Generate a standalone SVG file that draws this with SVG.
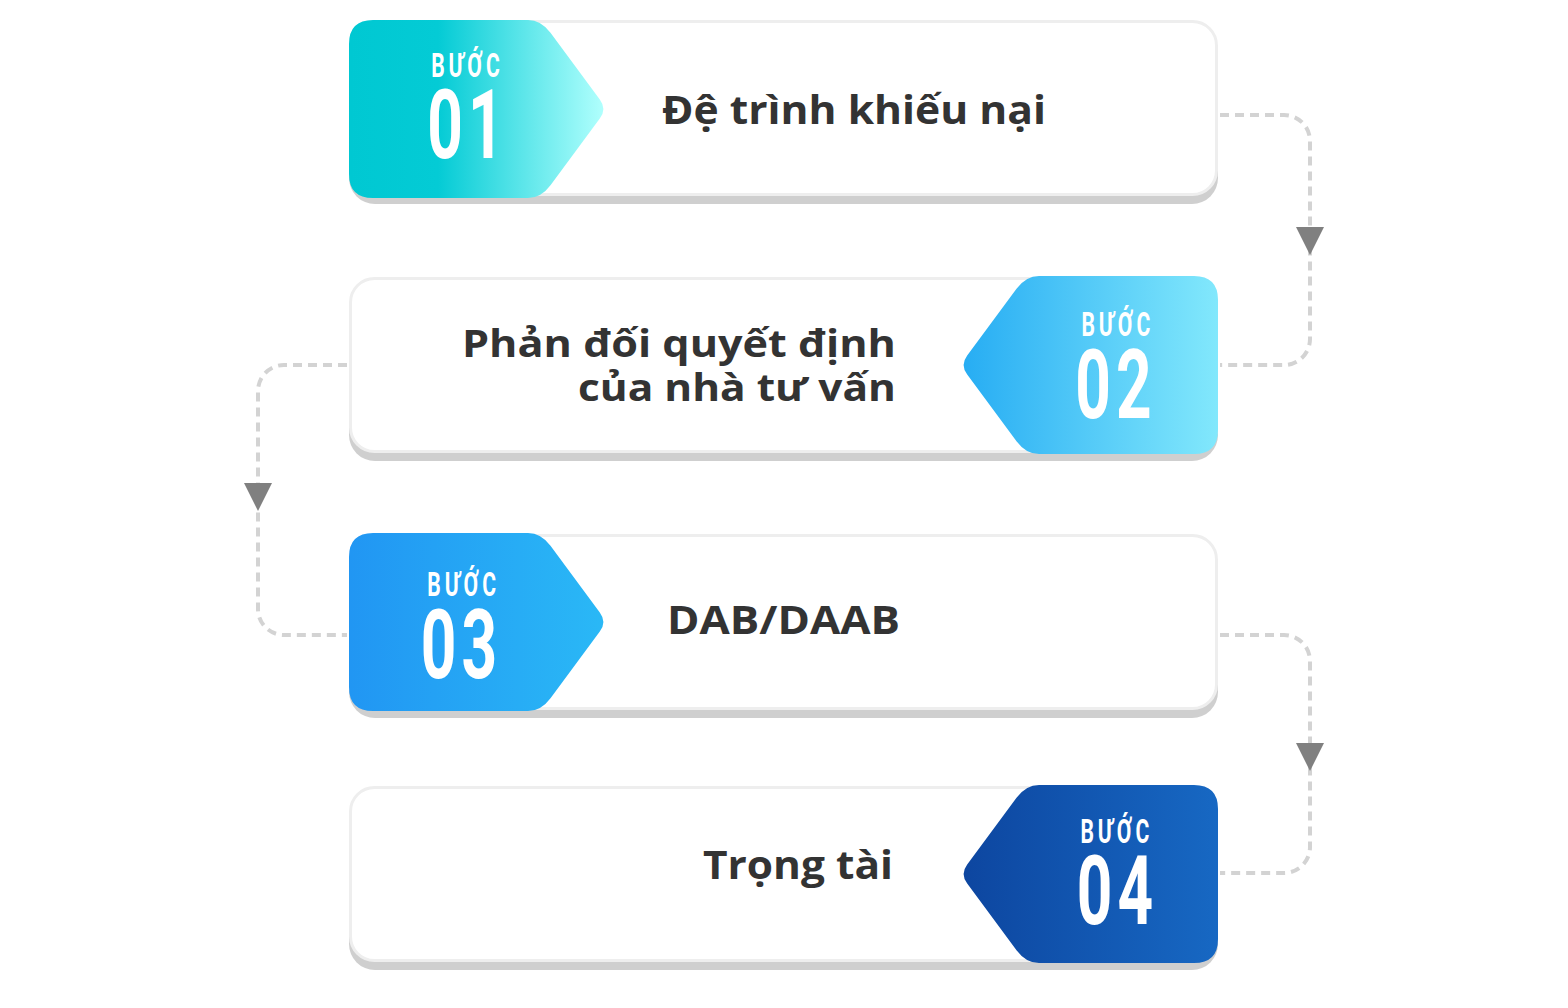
<svg xmlns="http://www.w3.org/2000/svg" xmlns:xlink="http://www.w3.org/1999/xlink" width="1568" height="1008" viewBox="0 0 1568 1008">
<style>
.shadow{fill:#cfcfcf}
.card{fill:#ffffff;stroke:#eeeeee;stroke-width:3}
.label{font-family:"Open Sans","Liberation Sans",sans-serif;font-weight:700;fill:#333333}
.badge{font-family:Roboto,"Liberation Sans",sans-serif;fill:#ffffff;text-anchor:middle}
.buoc{font-weight:700;font-size:33px;letter-spacing:6px}
.num{font-weight:700;font-size:97px;letter-spacing:8px}
.conn{fill:none;stroke:#d3d3d3;stroke-width:4;stroke-dasharray:9 6}
.arrow{fill:#808080}
</style>
<defs>
<linearGradient id="g1" x1="0" y1="0" x2="1" y2="0">
<stop offset="0" stop-color="#00c8d2"/><stop offset="0.35" stop-color="#04cbd5"/><stop offset="1" stop-color="#b0fffd"/>
</linearGradient>
<linearGradient id="g2" x1="0" y1="0" x2="1" y2="0">
<stop offset="0" stop-color="#27adf3"/><stop offset="1" stop-color="#82e8fc"/>
</linearGradient>
<linearGradient id="g3" x1="0" y1="0" x2="1" y2="0">
<stop offset="0" stop-color="#2196f3"/><stop offset="1" stop-color="#2ab8f6"/>
</linearGradient>
<linearGradient id="g4" x1="0" y1="0" x2="1" y2="0">
<stop offset="0" stop-color="#0d46a0"/><stop offset="1" stop-color="#1768c3"/>
</linearGradient>
<path id="arr" d="M-14,-14 L14,-14 L0,14 Z"/>
</defs>

<g id="connectors">
<path class="conn" d="M1220,115 L1284,115 A26,26 0 0 1 1310,141 L1310,339 A26,26 0 0 1 1284,365 L1220,365"/>
<path class="conn" d="M347,365 L284,365 A26,26 0 0 0 258,391 L258,609 A26,26 0 0 0 284,635 L347,635"/>
<path class="conn" d="M1220,635 L1284,635 A26,26 0 0 1 1310,661 L1310,847 A26,26 0 0 1 1284,873 L1220,873"/>
<use xlink:href="#arr" href="#arr" class="arrow" x="1310" y="241"/>
<use xlink:href="#arr" href="#arr" class="arrow" x="258" y="497"/>
<use xlink:href="#arr" href="#arr" class="arrow" x="1310" y="757"/>
</g>

<g id="step1">
<rect class="shadow" x="349" y="28" width="869" height="176" rx="26"/>
<rect class="card" x="350.5" y="21.5" width="866" height="173" rx="24"/>
<path fill="url(#g1)" d="M373,20 L528,20 Q541,20 550.5,32.8 L599.8,99.4 Q607,109 599.8,118.6 L550.5,185.2 Q541,198 528,198 L373,198 Q349,198 349,174 L349,44 Q349,20 373,20 Z"/>
<text class="badge" transform="translate(465.5 0) scale(0.64 1)"><tspan class="buoc" x="3" y="77">BƯỚC</tspan><tspan class="num" x="4" y="158">01</tspan></text>
<text class="label" x="662" y="124" font-size="40" textLength="384" lengthAdjust="spacingAndGlyphs">Đệ trình khiếu nại</text>
</g>

<g id="step2">
<rect class="shadow" x="349" y="285" width="869" height="176" rx="26"/>
<rect class="card" x="350.5" y="278.5" width="866" height="173" rx="24"/>
<path fill="url(#g2)" d="M1194,276 L1039,276 Q1026,276 1016.5,288.8 L967.2,355.4 Q960,365 967.2,374.6 L1016.5,441.2 Q1026,454 1039,454 L1194,454 Q1218,454 1218,430 L1218,300 Q1218,276 1194,276 Z"/>
<text class="badge" transform="translate(1115.9 0) scale(0.64 1)"><tspan class="buoc" x="3" y="336">BƯỚC</tspan><tspan class="num" x="0.3" y="418.3">02</tspan></text>
<text class="label" x="462" y="357" font-size="37" textLength="434" lengthAdjust="spacingAndGlyphs">Phản đối quyết định</text>
<text class="label" x="578" y="401" font-size="37" textLength="318" lengthAdjust="spacingAndGlyphs">của nhà tư vấn</text>
</g>

<g id="step3">
<rect class="shadow" x="349" y="542" width="869" height="176" rx="26"/>
<rect class="card" x="350.5" y="535.5" width="866" height="173" rx="24"/>
<path fill="url(#g3)" d="M373,533 L528,533 Q541,533 550.5,545.8 L599.8,612.4 Q607,622 599.8,631.6 L550.5,698.2 Q541,711 528,711 L373,711 Q349,711 349,687 L349,557 Q349,533 373,533 Z"/>
<text class="badge" transform="translate(461.7 0) scale(0.64 1)"><tspan class="buoc" x="3" y="596">BƯỚC</tspan><tspan class="num" x="-0.5" y="678.3">03</tspan></text>
<text class="label" x="667" y="633.5" font-size="40" textLength="233" lengthAdjust="spacingAndGlyphs">DAB/DAAB</text>
</g>

<g id="step4">
<rect class="shadow" x="349" y="794" width="869" height="176" rx="26"/>
<rect class="card" x="350.5" y="787.5" width="866" height="173" rx="24"/>
<path fill="url(#g4)" d="M1194,785 L1039,785 Q1026,785 1016.5,797.8 L967.2,864.4 Q960,874 967.2,883.6 L1016.5,950.2 Q1026,963 1039,963 L1194,963 Q1218,963 1218,939 L1218,809 Q1218,785 1194,785 Z"/>
<text class="badge" transform="translate(1114.9 0) scale(0.64 1)"><tspan class="buoc" x="3" y="842.7">BƯỚC</tspan><tspan class="num" x="4" y="924">04</tspan></text>
<text class="label" x="703" y="879" font-size="40" textLength="190" lengthAdjust="spacingAndGlyphs">Trọng tài</text>
</g>
</svg>
